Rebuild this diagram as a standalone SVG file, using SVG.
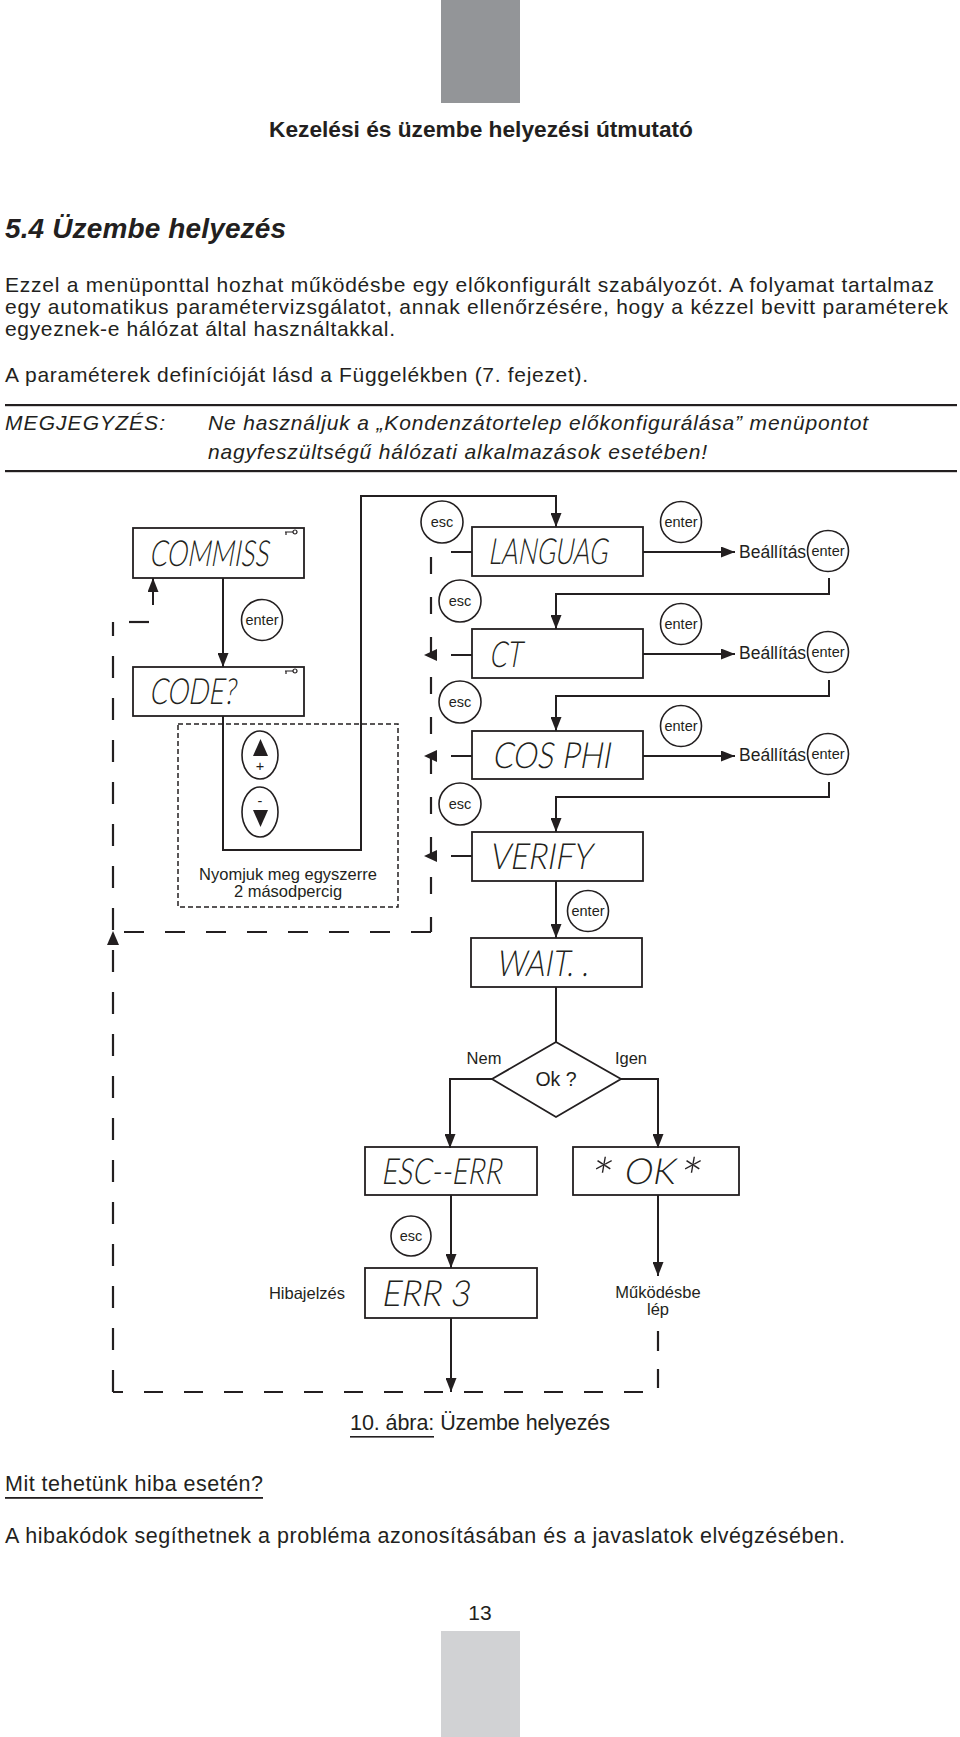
<svg xmlns="http://www.w3.org/2000/svg" width="960" height="1737" viewBox="0 0 960 1737">
<style>
.t{font-family:"Liberation Sans",Arial,sans-serif;fill:#231f20}
.box{fill:none;stroke:#231f20;stroke-width:1.8}
.ln{fill:none;stroke:#231f20;stroke-width:2}
.dl{fill:none;stroke:#231f20;stroke-width:2.2}
.btn{fill:#fff;stroke:#231f20;stroke-width:1.6}
.bt{font-family:"Liberation Sans",Arial,sans-serif;font-size:14.5px;fill:#231f20;text-anchor:middle}
.lcd{font-family:"Lato","Inter","DejaVu Sans",sans-serif;font-weight:300;fill:#231f20;font-size:36px}
.ah{fill:#231f20}
</style>
<defs>
<marker id="arr" viewBox="0 0 14 11" refX="14" refY="5.5" markerWidth="14" markerHeight="11" markerUnits="userSpaceOnUse" orient="auto">
<path d="M0,0 L14,5.5 L0,11 z" fill="#231f20"/>
</marker>
<g id="key"><circle cx="5" cy="0" r="2" fill="none" stroke="#231f20" stroke-width="1.2"/><path d="M-5,0 H3 M-4,0 V3" stroke="#231f20" stroke-width="1.2" fill="none"/></g>
</defs>
<rect width="960" height="1737" fill="#fff"/>
<rect x="441" y="0" width="79" height="103" fill="#939598"/>
<rect x="441" y="1631" width="79" height="106" fill="#d1d2d4"/>
<g id="page-text">
<text class="t" x="269" y="137" font-size="22" font-weight="bold" textLength="424" lengthAdjust="spacingAndGlyphs">Kezelési és üzembe helyezési útmutató</text>
<text class="t" x="5" y="238" font-size="28" font-weight="bold" font-style="italic" textLength="281" lengthAdjust="spacing">5.4 Üzembe helyezés</text>
<text class="t" x="5" y="292" font-size="21" textLength="929" lengthAdjust="spacing">Ezzel a menüponttal hozhat működésbe egy előkonfigurált szabályozót. A folyamat tartalmaz</text>
<text class="t" x="5" y="314" font-size="21" textLength="943" lengthAdjust="spacing">egy automatikus paramétervizsgálatot, annak ellenőrzésére, hogy a kézzel bevitt paraméterek</text>
<text class="t" x="5" y="336" font-size="21" textLength="390" lengthAdjust="spacing">egyeznek-e hálózat által használtakkal.</text>
<text class="t" x="5" y="382" font-size="21" textLength="583" lengthAdjust="spacing">A paraméterek definícióját lásd a Függelékben (7. fejezet).</text>
<rect x="5" y="404" width="952" height="2.2" fill="#231f20"/>
<text class="t" x="5" y="430" font-size="21" font-style="italic" textLength="160" lengthAdjust="spacing">MEGJEGYZÉS:</text>
<text class="t" x="208" y="430" font-size="21" font-style="italic" textLength="660" lengthAdjust="spacing">Ne használjuk a „Kondenzátortelep előkonfigurálása” menüpontot</text>
<text class="t" x="208" y="459" font-size="21" font-style="italic" textLength="499" lengthAdjust="spacing">nagyfeszültségű hálózati alkalmazások esetében!</text>
<rect x="5" y="470" width="952" height="2.2" fill="#231f20"/>
<text class="t" x="350" y="1430" font-size="21.5" textLength="260" lengthAdjust="spacing">10. ábra: Üzembe helyezés</text>
<rect x="350" y="1436" width="84" height="1.6" fill="#231f20"/>
<text class="t" x="5" y="1491" font-size="21.5" textLength="258" lengthAdjust="spacing">Mit tehetünk hiba esetén?</text>
<rect x="5" y="1497" width="258" height="1.8" fill="#231f20"/>
<text class="t" x="5" y="1543" font-size="21.5" textLength="840" lengthAdjust="spacing">A hibakódok segíthetnek a probléma azonosításában és a javaslatok elvégzésében.</text>
<text class="t" x="480" y="1620" font-size="21" text-anchor="middle">13</text>
</g>
<g id="connectors">
<path class="ln" d="M223,578 V667" marker-end="url(#arr)"/>
<path class="ln" d="M223,716 V850 H361 V496 H556 V527" marker-end="url(#arr)"/>
<path class="ln" d="M643,552 H735" marker-end="url(#arr)"/>
<path class="ln" d="M829,578 V594 H556 V629" marker-end="url(#arr)"/>
<path class="ln" d="M643,654 H735" marker-end="url(#arr)"/>
<path class="ln" d="M829,680 V696 H556 V731" marker-end="url(#arr)"/>
<path class="ln" d="M643,756 H735" marker-end="url(#arr)"/>
<path class="ln" d="M829,782 V797 H556 V832" marker-end="url(#arr)"/>
<path class="ln" d="M556,881 V938" marker-end="url(#arr)"/>
<path class="ln" d="M556,987 V1042"/>
<path class="ln" d="M492,1079 H450 V1148" marker-end="url(#arr)"/>
<path class="ln" d="M621,1079 H658 V1148" marker-end="url(#arr)"/>
<path class="ln" d="M451,1195 V1268" marker-end="url(#arr)"/>
<path class="ln" d="M658,1195 V1276" marker-end="url(#arr)"/>
<path class="ln" d="M451,1318 V1392" marker-end="url(#arr)"/>
<path class="ln" d="M451,552 H472 M451,655 H472 M451,756 H472 M451,856 H472"/>
<path class="dl" d="M431,557 V932" stroke-dasharray="17 23"/>
<path class="dl" d="M431,932 H113" stroke-dasharray="20 21"/>
<polygon class="ah" points="424,655 437,649 437,661"/>
<polygon class="ah" points="424,756 437,750 437,762"/>
<polygon class="ah" points="424,856 437,850 437,862"/>
<path class="dl" d="M658,1331 V1388" stroke-dasharray="20 18"/>
<path class="dl" d="M643,1392 H113" stroke-dasharray="19 21"/>
<path class="dl" d="M113,1392 V622" stroke-dasharray="22 20"/>
<path class="dl" d="M129,622 H149"/>
<path class="ln" d="M153,605 V578" marker-end="url(#arr)"/>
<polygon class="ah" points="113,931 107,945 119,945"/>
<rect x="178" y="724" width="220" height="183" fill="none" stroke="#231f20" stroke-width="1.5" stroke-dasharray="5 3"/>
</g>
<g id="commiss"><rect class="box" x="133" y="528" width="171" height="50"/><use href="#key" x="290" y="532"/><text class="lcd" transform="translate(149,566) skewX(-10)" textLength="119" lengthAdjust="spacingAndGlyphs">COMMISS</text></g>
<g id="code"><rect class="box" x="133" y="667" width="171" height="49"/><use href="#key" x="290" y="671"/><text class="lcd" transform="translate(149,704) skewX(-10)" textLength="86" lengthAdjust="spacingAndGlyphs">CODE?</text></g>
<g id="enter-commiss"><circle class="btn" cx="262" cy="620" r="20.5"/><text class="bt" x="262" y="625">enter</text></g>
<g id="plus-btn"><ellipse class="btn" cx="260" cy="755" rx="18" ry="24"/><polygon class="ah" points="260.5,739 253,756 268,756"/><text class="bt" x="260" y="771" font-size="13">+</text></g>
<g id="minus-btn"><ellipse class="btn" cx="260" cy="812" rx="18" ry="25"/><text class="bt" x="260" y="806" font-size="14">-</text><polygon class="ah" points="253,810 268,810 260.5,827"/></g>
<g id="hold-label"><text class="t" x="288" y="880" font-size="16.5" text-anchor="middle">Nyomjuk meg egyszerre</text><text class="t" x="288" y="897" font-size="16.5" text-anchor="middle">2 másodpercig</text></g>
<g id="languag"><rect class="box" x="472" y="527" width="171" height="49"/><text class="lcd" transform="translate(488,564) skewX(-10)" textLength="119" lengthAdjust="spacingAndGlyphs">LANGUAG</text></g>
<g id="ct"><rect class="box" x="472" y="629" width="171" height="49"/><text class="lcd" transform="translate(489,667) skewX(-10)" textLength="32" lengthAdjust="spacingAndGlyphs">CT</text></g>
<g id="cosphi"><rect class="box" x="472" y="731" width="171" height="48"/><text class="lcd" transform="translate(492,768) skewX(-10)" textLength="118" lengthAdjust="spacingAndGlyphs">COS PHI</text></g>
<g id="verify"><rect class="box" x="472" y="832" width="171" height="49"/><text class="lcd" transform="translate(489,869) skewX(-10)" textLength="102" lengthAdjust="spacingAndGlyphs">VERIFY</text></g>
<g id="wait"><rect class="box" x="471" y="938" width="171" height="49"/><text class="lcd" transform="translate(496,976) skewX(-10)" textLength="92" lengthAdjust="spacingAndGlyphs">WAIT. .</text></g>
<g id="esc1"><circle class="btn" cx="442" cy="522" r="21"/><text class="bt" x="442" y="527">esc</text></g>
<g id="esc2"><circle class="btn" cx="460" cy="601" r="21"/><text class="bt" x="460" y="606">esc</text></g>
<g id="esc3"><circle class="btn" cx="460" cy="702" r="21"/><text class="bt" x="460" y="707">esc</text></g>
<g id="esc4"><circle class="btn" cx="460" cy="804" r="21"/><text class="bt" x="460" y="809">esc</text></g>
<g id="enter1"><circle class="btn" cx="681" cy="522" r="20.5"/><text class="bt" x="681" y="527">enter</text></g>
<g id="enter2"><circle class="btn" cx="681" cy="624" r="20.5"/><text class="bt" x="681" y="629">enter</text></g>
<g id="enter3"><circle class="btn" cx="681" cy="726" r="20.5"/><text class="bt" x="681" y="731">enter</text></g>
<g id="set1"><text class="t" x="739" y="558" font-size="17.5">Beállítás</text><circle class="btn" cx="828" cy="551" r="20.5"/><text class="bt" x="828" y="556">enter</text></g>
<g id="set2"><text class="t" x="739" y="659" font-size="17.5">Beállítás</text><circle class="btn" cx="828" cy="652" r="20.5"/><text class="bt" x="828" y="657">enter</text></g>
<g id="set3"><text class="t" x="739" y="761" font-size="17.5">Beállítás</text><circle class="btn" cx="828" cy="754" r="20.5"/><text class="bt" x="828" y="759">enter</text></g>
<g id="enter-verify"><circle class="btn" cx="588" cy="911" r="20.5"/><text class="bt" x="588" y="916">enter</text></g>
<g id="decision"><polygon points="556,1042 621,1079 556,1117 492,1079" fill="#fff" stroke="#231f20" stroke-width="1.8"/><text class="t" x="556" y="1086" font-size="19.5" text-anchor="middle">Ok ?</text><text class="t" x="484" y="1064" font-size="16.5" text-anchor="middle">Nem</text><text class="t" x="631" y="1064" font-size="16.5" text-anchor="middle">Igen</text></g>
<g id="escerr"><rect class="box" x="365" y="1147" width="172" height="48"/><text class="lcd" transform="translate(381,1184) skewX(-10)" textLength="120" lengthAdjust="spacingAndGlyphs">ESC--ERR</text></g>
<g id="ok"><rect class="box" x="573" y="1147" width="166" height="48"/><text class="lcd" transform="translate(589,1184) skewX(-10)"><tspan font-size="54" dy="13">*</tspan><tspan x="34" dy="-13">OK</tspan><tspan x="89" font-size="54" dy="13">*</tspan></text></g>
<g id="esc-err"><circle class="btn" cx="411" cy="1236" r="20"/><text class="bt" x="411" y="1241">esc</text></g>
<g id="err3"><rect class="box" x="365" y="1268" width="172" height="50"/><text class="lcd" transform="translate(381,1306) skewX(-10)" textLength="88" lengthAdjust="spacingAndGlyphs">ERR 3</text><text class="t" x="345" y="1299" font-size="16.5" text-anchor="end">Hibajelzés</text></g>
<g id="run"><text class="t" x="658" y="1298" font-size="16.5" text-anchor="middle">Működésbe</text><text class="t" x="658" y="1315" font-size="16.5" text-anchor="middle">lép</text></g>
</svg>
